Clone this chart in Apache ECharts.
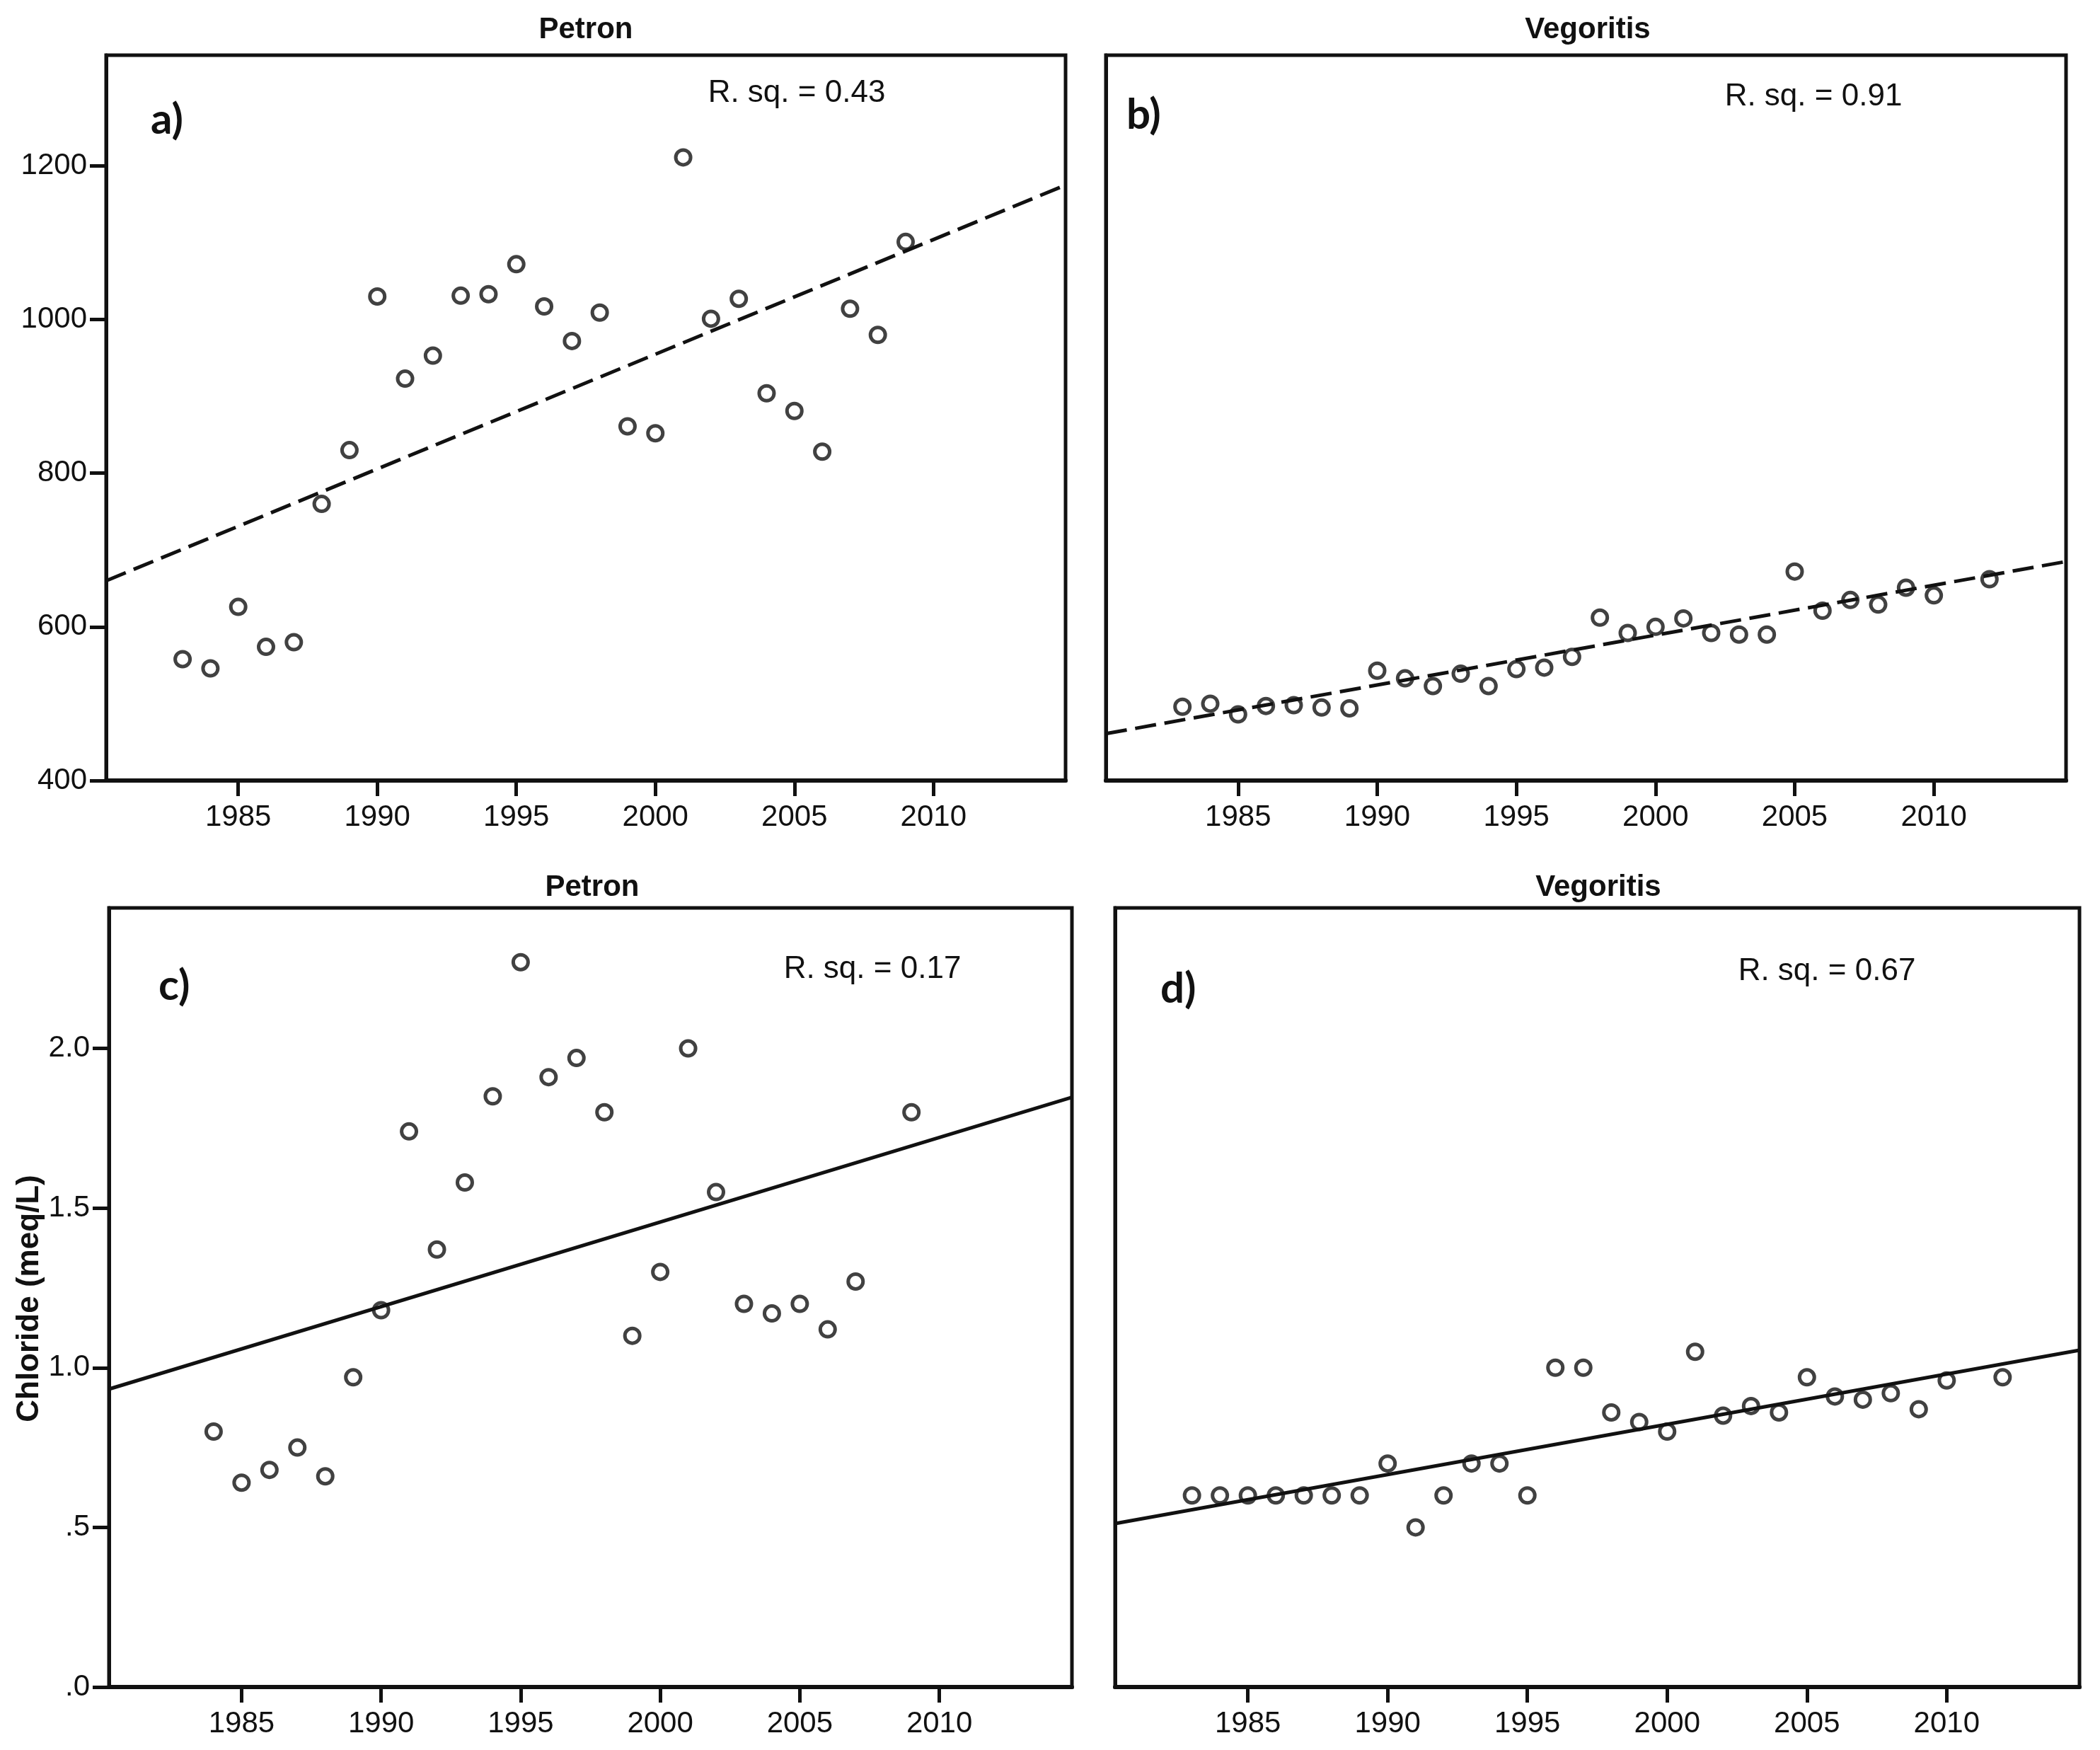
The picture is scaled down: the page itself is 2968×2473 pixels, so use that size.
<!DOCTYPE html>
<html>
<head>
<meta charset="utf-8">
<script src="https://cdn.jsdelivr.net/npm/echarts@6/dist/echarts.min.js"></script>
<style>
html,body{margin:0;padding:0;background:#fff;}
#chart{width:2968px;height:2473px;}
</style>
</head>
<body>
<div id="chart"></div>
<script>
// ---- data ----
const yearTicks = [1985, 1990, 1995, 2000, 2005, 2010];
const conductTicks = [400, 600, 800, 1000, 1200];
const chlorideTicks = [0, 0.5, 1.0, 1.5, 2.0];

const yearsPetronA = [1983,1984,1985,1986,1987,1988,1989,1990,1991,1992,1993,1994,1995,1996,1997,1998,1999,2000,2001,2002,2003,2004,2005,2006,2007,2008,2009];
const petronA = [558,546,626,574,580,760,830,1030,923,953,1031,1033,1072,1017,972,1009,861,852,1211,1001,1027,904,881,828,1014,980,1101];

const yearsVegB = [1983,1984,1985,1986,1987,1988,1989,1990,1991,1992,1993,1994,1995,1996,1997,1998,1999,2000,2001,2002,2003,2004,2005,2006,2007,2008,2009,2010,2012];
const vegB = [496,500,486,497,498,495,494,543,533,523,539,523,545,547,561,612,592,600,611,592,590,590,672,621,635,629,651,641,662];

const yearsPetronC = [1984,1985,1986,1987,1988,1989,1990,1991,1992,1993,1994,1995,1996,1997,1998,1999,2000,2001,2002,2003,2004,2005,2006,2007,2009];
const petronC = [0.80,0.64,0.68,0.75,0.66,0.97,1.18,1.74,1.37,1.58,1.85,2.27,1.91,1.97,1.80,1.10,1.30,2.00,1.55,1.20,1.17,1.20,1.12,1.27,1.80];

const yearsVegD = [1983,1984,1985,1986,1987,1988,1989,1990,1991,1992,1993,1994,1995,1996,1997,1998,1999,2000,2001,2002,2003,2004,2005,2006,2007,2008,2009,2010,2012];
const vegD = [0.60,0.60,0.60,0.60,0.60,0.60,0.60,0.70,0.50,0.60,0.70,0.70,0.60,1.00,1.00,0.86,0.83,0.80,1.05,0.85,0.88,0.86,0.97,0.91,0.90,0.92,0.87,0.96,0.97];

// fitted lines (values at left and right edge of each plot)
const xRange = [1980.25, 2014.75];
const fitA = [660, 1175];
const fitB = [461, 685];
const fitC = [0.933, 1.847];
const fitD = [0.512, 1.055];

const panelTitles = ['Petron', 'Vegoritis', 'Petron', 'Vegoritis'];
const panelLetters = ['a)', 'b)', 'c)', 'd)'];
const rsq = ['R. sq. = 0.43', 'R. sq. = 0.91', 'R. sq. = 0.17', 'R. sq. = 0.67'];
const yTitle = 'Chloride (meq/L)';

// ---- chart ----
const INK = '#111';
const tickFont = "'Liberation Sans Narrow', 'Liberation Sans', Arial, sans-serif";
const grids = [
  {left: 150, top: 78, width: 1356, height: 1025},
  {left: 1563, top: 78, width: 1357, height: 1025},
  {left: 154, top: 1283, width: 1361, height: 1101},
  {left: 1576, top: 1283, width: 1363, height: 1101}
].map(g => Object.assign(g, {show: true, borderColor: INK, borderWidth: 5, backgroundColor: 'transparent'}));

const plainFmt = v => String(v);
const chlorFmt = v => { let s = Number(v).toFixed(1); return s.startsWith('0') ? s.slice(1) : s; };

function xAxis(i) {
  return {
    type: 'value', gridIndex: i, min: xRange[0], max: xRange[1],
    splitLine: {show: false},
    axisLine: {show: true, onZero: false, lineStyle: {color: INK, width: 6}},
    axisTick: {show: true, customValues: yearTicks, length: 22, lineStyle: {color: INK, width: 5}},
    axisLabel: {customValues: yearTicks, margin: 31, color: INK, fontSize: 42, fontFamily: tickFont, formatter: plainFmt}
  };
}
function yAxis(i, min, max, ticks, showLabels, fmt) {
  return {
    type: 'value', gridIndex: i, min: min, max: max,
    splitLine: {show: false},
    axisLine: {show: true, onZero: false, lineStyle: {color: INK, width: 5}},
    axisTick: {show: showLabels, customValues: ticks, length: 23, lineStyle: {color: INK, width: 5}},
    axisLabel: {show: showLabels, customValues: ticks, margin: 27, color: INK, fontSize: 42, fontFamily: tickFont, formatter: fmt}
  };
}

function pts(xs, ys) { return xs.map((x, k) => [x, ys[k]]); }
function scatter(i, xs, ys) {
  return {
    type: 'scatter', xAxisIndex: i, yAxisIndex: i, data: pts(xs, ys),
    symbol: 'circle', symbolSize: 21, z: 3,
    itemStyle: {color: 'rgba(255,255,255,0)', borderColor: INK, borderWidth: 5}
  };
}
function fit(i, ends, dashed) {
  return {
    type: 'line', xAxisIndex: i, yAxisIndex: i, data: pts(xRange, ends),
    showSymbol: false, symbol: 'none', silent: true, z: 2,
    lineStyle: {color: INK, width: 5, type: dashed ? [30, 12] : 'solid'}
  };
}

const titlePos = [[828, 42], [2244, 42], [837, 1254], [2259, 1254]];
const letterPos = [[213, 170], [1592, 163], [224, 1394], [1640, 1398]];
const rsqPos = [[1126, 132], [2563, 137], [1233, 1370], [2582, 1373]];

const graphics = [];
for (let i = 0; i < 4; i++) {
  graphics.push({type: 'text', x: titlePos[i][0], y: titlePos[i][1], z: 10,
    style: {text: panelTitles[i], fill: INK, font: "bold 42px 'Liberation Sans', Arial, sans-serif", align: 'center', verticalAlign: 'middle'}});
  graphics.push({type: 'text', x: letterPos[i][0], y: letterPos[i][1], z: 10,
    style: {text: panelLetters[i], fill: INK, font: "bold 60px Lato, 'Noto Sans', sans-serif", align: 'left', verticalAlign: 'middle'}});
  graphics.push({type: 'text', x: rsqPos[i][0], y: rsqPos[i][1], z: 10,
    style: {text: rsq[i], fill: INK, font: "44px 'Liberation Sans', Arial, sans-serif", align: 'center', verticalAlign: 'middle'}});
}
graphics.push({type: 'text', x: 42, y: 1835, rotation: Math.PI / 2, z: 10,
  style: {text: yTitle, fill: INK, font: "bold 44px 'Liberation Sans', Arial, sans-serif", align: 'center', verticalAlign: 'middle'}});

const chart = echarts.init(document.getElementById('chart'), null, {renderer: 'canvas'});
chart.setOption({
  backgroundColor: '#fff',
  animation: false,
  grid: grids,
  xAxis: [xAxis(0), xAxis(1), xAxis(2), xAxis(3)],
  yAxis: [
    yAxis(0, 400, 1344, conductTicks, true, plainFmt),
    yAxis(1, 400, 1344, conductTicks, false, plainFmt),
    yAxis(2, 0, 2.44, chlorideTicks, true, chlorFmt),
    yAxis(3, 0, 2.44, chlorideTicks, false, chlorFmt)
  ],
  series: [
    fit(0, fitA, true), scatter(0, yearsPetronA, petronA),
    fit(1, fitB, true), scatter(1, yearsVegB, vegB),
    fit(2, fitC, false), scatter(2, yearsPetronC, petronC),
    fit(3, fitD, false), scatter(3, yearsVegD, vegD)
  ],
  graphic: graphics
});
</script>
</body>
</html>
